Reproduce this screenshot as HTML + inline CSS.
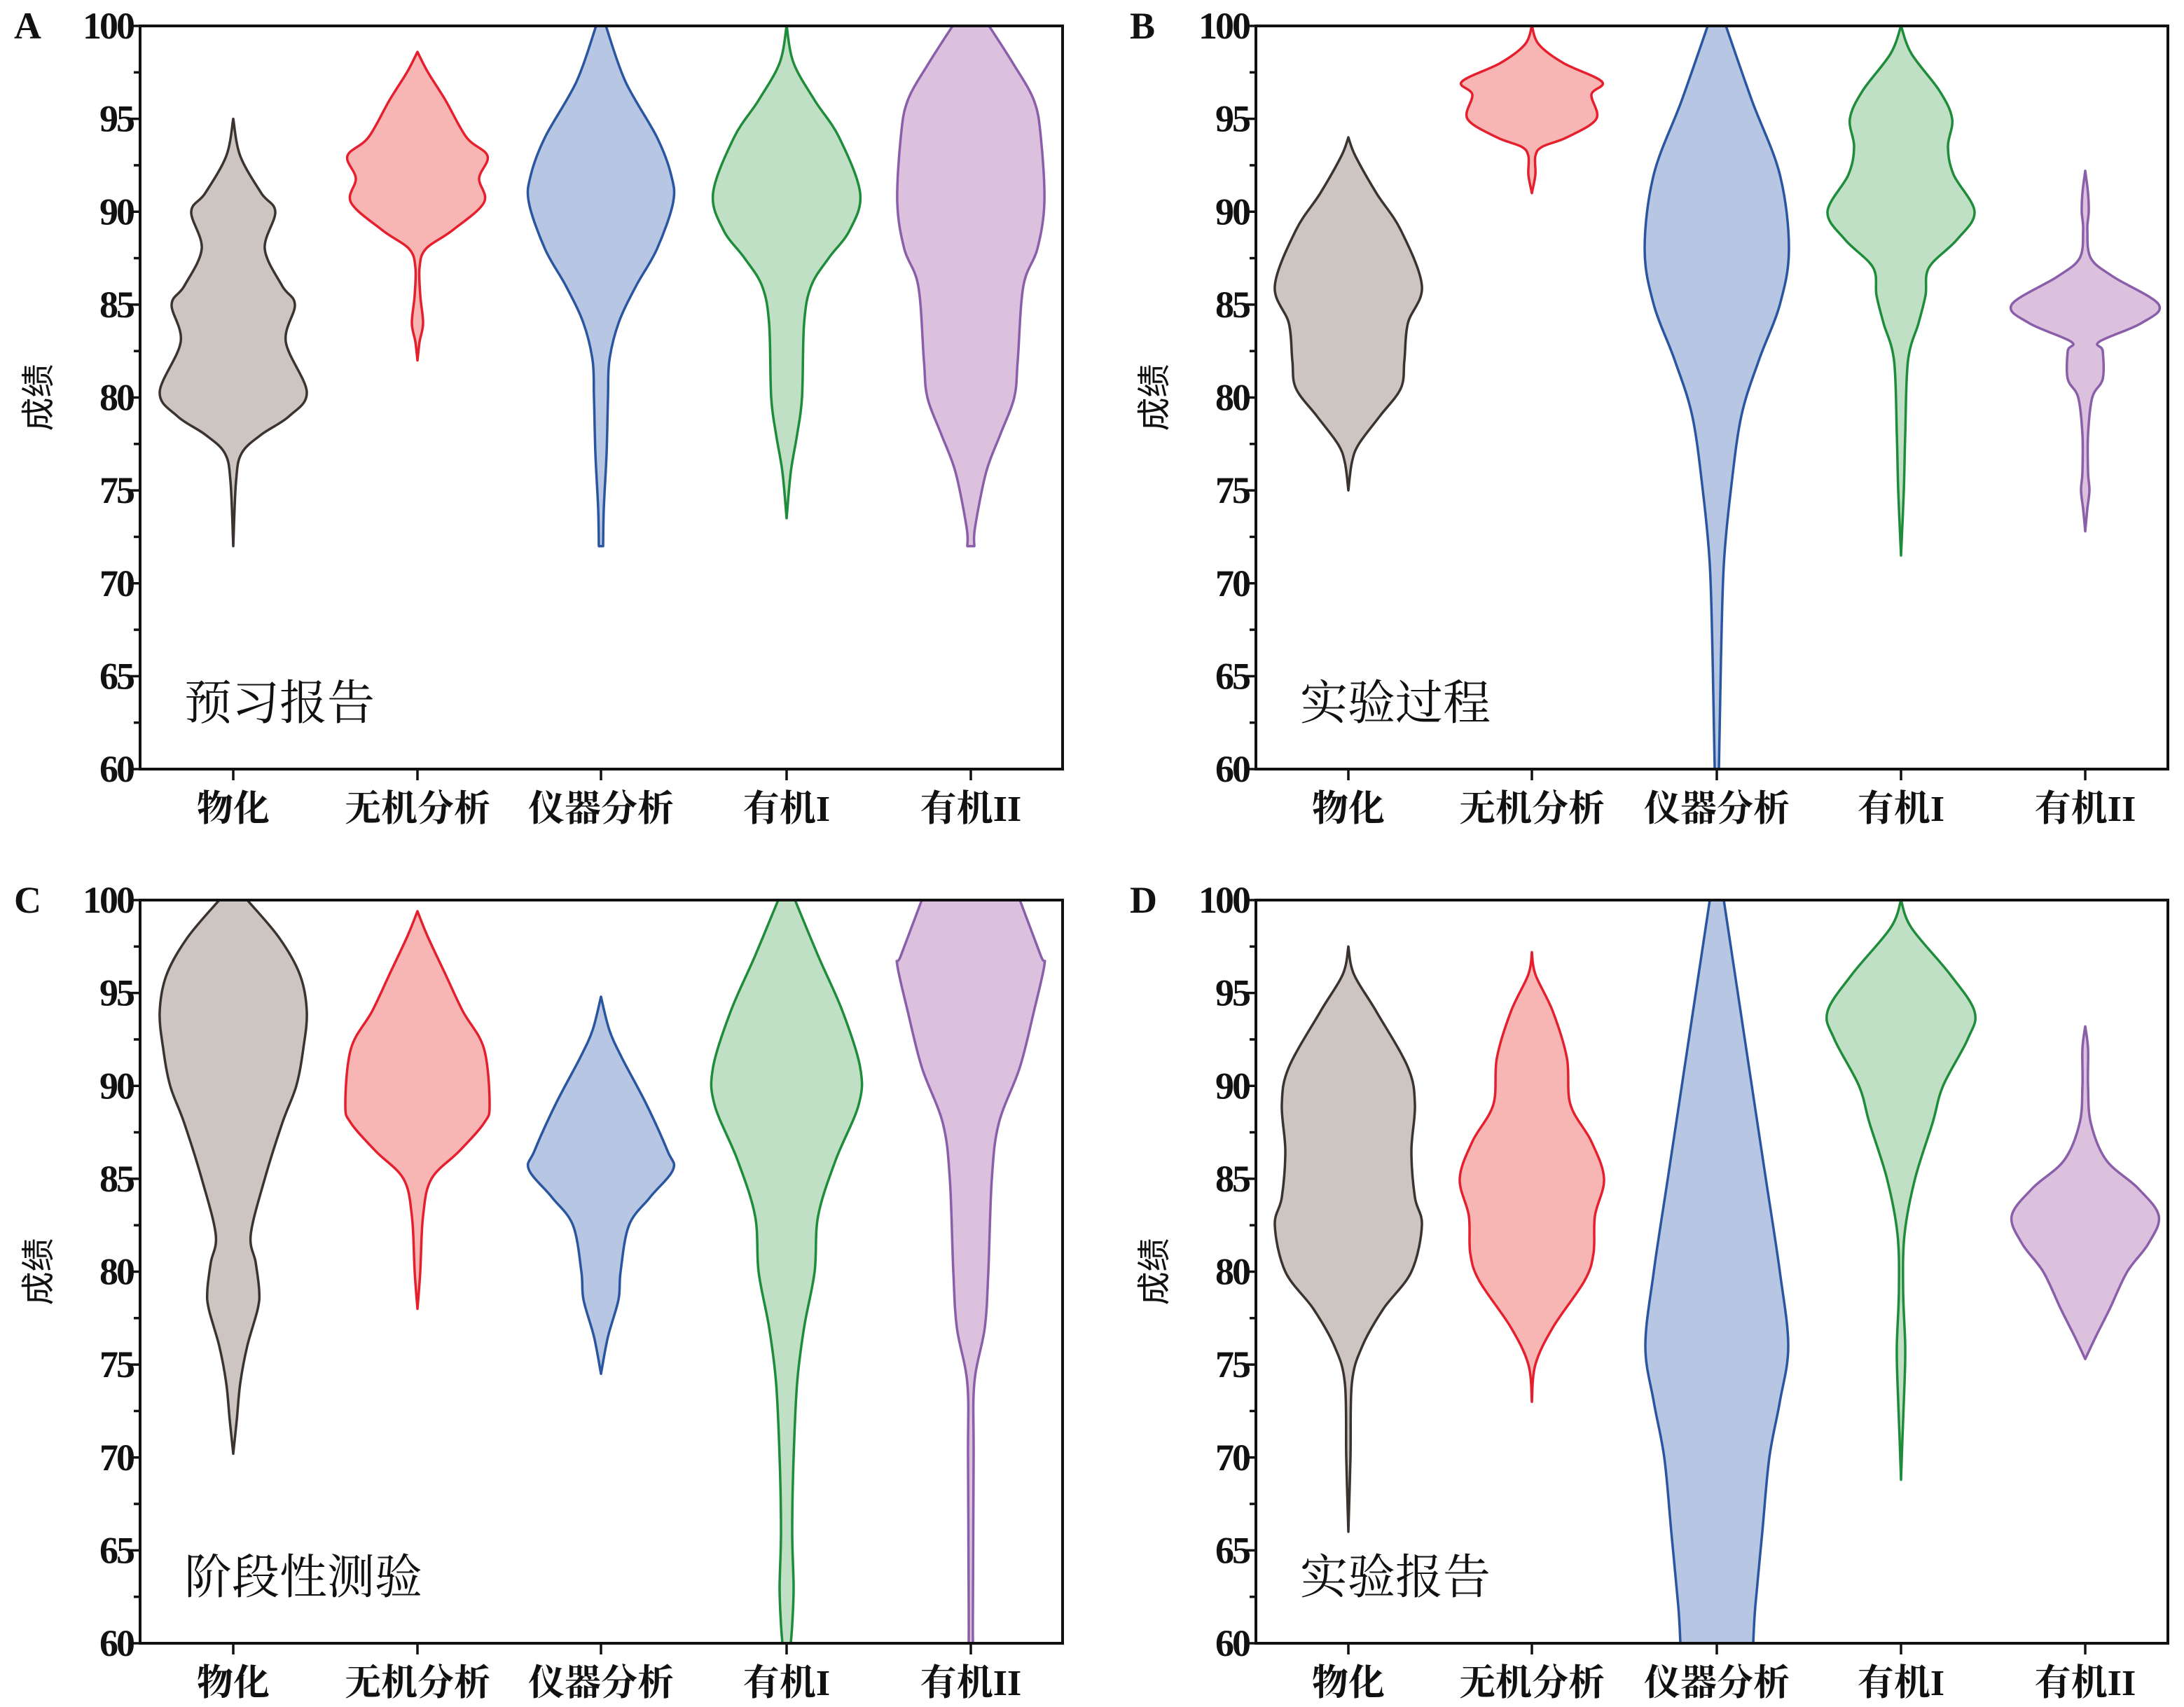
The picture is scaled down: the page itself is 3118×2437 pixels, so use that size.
<!DOCTYPE html>
<html><head><meta charset="utf-8">
<style>
html,body{margin:0;padding:0;background:#fff;}
svg{display:block;}
</style></head>
<body>
<svg id="s" xmlns="http://www.w3.org/2000/svg" width="3118" height="2437" viewBox="0 0 3118 2437"></svg>
<script>
const NS="http://www.w3.org/2000/svg";
const svg=document.getElementById('s');
function el(t,a,txt){const e=document.createElementNS(NS,t);for(const k in a)e.setAttribute(k,a[k]);if(txt!==undefined)e.textContent=txt;svg.appendChild(e);return e;}
const cols=[["#cdc5c2","#3a3330"],["#f7b6b4","#e5202e"],["#b6c6e3","#2a56a0"],["#bfe0c4","#1e8c3a"],["#dcc1df","#8a5ea8"]];
const cats=["物化","无机分析","仪器分析","有机I","有机II"];
const panels=[
 {L:"A",t:"预习报告",x0:200,x1:1517,y0:37,y1:1098,cx:[333,596,858,1123,1386],v:[
  [[95,0],[93,10],[91,40],[90,60],[88,45],[86,70],[85,88],[83,75],[80.3,105],[79,80],[78,40],[77,12],[75.5,4],[72,0]],
  [[98.6,0],[97.5,15],[96,40],[94,70],[93,100],[91.8,88],[90.5,95],[89,50],[88,12],[87,3],[85.5,4],[84,8],[83,3],[82,0]],
  [[100,7],[97,35],[94,80],[92,100],[90.5,103],[88,80],[86,50],[84,25],[82,12],[80,10],[77,8],[74,4],[72,3]],
  [[100,0],[98,10],[96,40],[94,75],[91,105],[89,90],[87.5,60],[86,35],[84,25],[80,22],[78,15],[76,6],[73.5,0]],
  [[100,26],[98,60],[96,90],[94,100],[90.5,105],[88,95],[86,75],[82,67],[80,62],[78,42],[76,22],[73,6],[72,5]]]},
 {L:"B",t:"实验过程",x0:1793,x1:3095,y0:37,y1:1098,cx:[1925,2187,2451,2714,2977],v:[
  [[94,0],[93,10],[91,40],[89,75],[86,105],[84,85],[82,80],[80.5,75],[79,45],[77.5,15],[76.5,5],[75,0]],
  [[100,0],[99,10],[98,45],[97,100],[96.3,85],[95,92],[94,50],[93.5,15],[93,5],[92,5],[91,0]],
  [[100,13],[96,50],[92,90],[88,103],[85,90],[82,60],[79,35],[75,20],[71,10],[66,6],[62,4],[60,3]],
  [[100,0],[98.5,15],[96.5,55],[95,73],[93.5,67],[92,75],[90,105],[88.5,80],[87,40],[85.5,35],[84,25],[82,10],[78,6],[75,4],[71.5,0]],
  [[92.2,0],[91,4],[90,5],[89,3],[87.5,8],[86.5,40],[85,105],[84,80],[83,20],[82.5,25],[81,25],[80,10],[78,4],[76,4],[75,6],[74,3],[72.8,0]]]},
 {L:"C",t:"阶段性测验",x0:200,x1:1517,y0:1285,y1:2346,cx:[333,596,858,1123,1386],v:[
  [[100,20],[98,65],[96,95],[94,105],[92,100],[90,90],[88,70],[85,45],[82,25],[80.5,32],[79,37],[78,35],[76,20],[74,10],[72,5],[70.2,0]],
  [[99.4,0],[98,15],[96,40],[94,65],[92,95],[89,103],[88,95],[86.5,60],[85,20],[83,8],[80,4],[78,0]],
  [[94.8,0],[93,12],[91.5,30],[89,65],[86.5,95],[85.5,103],[84,70],[82.5,40],[80,28],[78.5,25],[76.5,10],[74.5,0]],
  [[100,12],[97,45],[94,80],[91,105],[89,103],[86,70],[83,45],[80,40],[77,25],[74,15],[70,10],[66,8],[63,10],[61,8],[60,6]],
  [[100,70],[97,100],[96.5,105],[94,90],[91,70],[88,40],[85,30],[80,25],[77,20],[74,5],[70,4],[62,3],[60,3]]]},
 {L:"D",t:"实验报告",x0:1793,x1:3095,y0:1285,y1:2346,cx:[1925,2187,2451,2714,2977],v:[
  [[97.5,0],[96,8],[94,40],[91,85],[89,95],[86.5,90],[84,95],[82.5,105],[80,90],[78,50],[76,20],[74,5],[70,3],[66,0]],
  [[97.2,0],[96,5],[94,30],[91.5,50],[89,55],[87,85],[85,103],[83,90],[81,88],[79.5,75],[77,30],[75,5],[73,0]],
  [[100,10],[95,30],[90,50],[85,70],[80,90],[76,102],[73,90],[70,75],[66,65],[62,55],[60,52]],
  [[100,0],[98.5,15],[96,70],[94,105],[92.5,95],[90,60],[88,45],[85,20],[82,5],[79,3],[76,6],[74,5],[71,2],[68.8,0]],
  [[93.2,0],[92,4],[90,4],[88,8],[86,30],[84.5,75],[83,105],[81.5,90],[80,60],[78,35],[76.5,15],[75.3,0]]]}
];
function smooth(pts){
  let d="M"+pts[0][0].toFixed(1)+","+pts[0][1].toFixed(1);
  for(let i=0;i<pts.length-1;i++){
    const p0=pts[Math.max(0,i-1)],p1=pts[i],p2=pts[i+1],p3=pts[Math.min(pts.length-1,i+2)];
    const c1=[p1[0]+(p2[0]-p0[0])/6,p1[1]+(p2[1]-p0[1])/6];
    const c2=[p2[0]-(p3[0]-p1[0])/6,p2[1]-(p3[1]-p1[1])/6];
    d+=" C"+c1[0].toFixed(1)+","+c1[1].toFixed(1)+" "+c2[0].toFixed(1)+","+c2[1].toFixed(1)+" "+p2[0].toFixed(1)+","+p2[1].toFixed(1);
  }
  return d;
}
const serif='"Liberation Serif", serif';
const cjk='"Liberation Serif","Noto Serif CJK SC","Noto Sans CJK SC",serif';
panels.forEach(P=>{
  const Y=v=>P.y1-(v-60)*(P.y1-P.y0)/40;
  P.v.forEach((pts,i)=>{
    const cx=P.cx[i];
    const right=pts.map(p=>[cx+p[1],Y(p[0])]);
    const left=pts.slice().reverse().map(p=>[cx-p[1],Y(p[0])]);
    let d=smooth(right);
    d+=" L"+left[0][0].toFixed(1)+","+left[0][1].toFixed(1)+smooth(left).replace(/^M[^ ]+/,"")+" Z";
    el("path",{d:d,fill:cols[i][0],stroke:cols[i][1],"stroke-width":3.5,"stroke-linejoin":"round"});
  });
  el("rect",{x:P.x0,y:P.y0,width:P.x1-P.x0,height:P.y1-P.y0,fill:"none",stroke:"#111","stroke-width":4});
  for(let v=60;v<=100;v+=2.5){
    const y=Y(v),maj=(v%5===0);
    el("line",{x1:P.x0,x2:P.x0-(maj?16:9),y1:y,y2:y,stroke:"#111","stroke-width":3.5});
    if(maj) el("text",{x:P.x0-10,y:y+18,"text-anchor":"end","font-family":serif,"font-weight":"bold","font-size":54,"letter-spacing":-3,fill:"#111"},String(v));
  }
  P.cx.forEach((cx,i)=>{
    el("line",{x1:cx,x2:cx,y1:P.y1,y2:P.y1+16,stroke:"#111","stroke-width":3.5});
    el("text",{x:cx,y:P.y1+74,"text-anchor":"middle","font-family":cjk,"font-weight":"bold","font-size":52,fill:"#111"},cats[i]);
  });
  el("text",{x:P.x0-180,y:P.y0+18,"font-family":serif,"font-weight":"bold","font-size":54,fill:"#111"},P.L);
  const ly=(P.y0+P.y1)/2;
  el("text",{x:P.x0-150,y:ly,"text-anchor":"middle","font-family":'"Noto Sans CJK SC",sans-serif',"font-size":48,fill:"#111",transform:`rotate(-90 ${P.x0-150} ${ly})`,"dominant-baseline":"central"},"成绩");
  el("text",{x:P.x0+63,y:P.y0+990,"font-family":cjk,"font-size":68,fill:"#111"},P.t);
});
</script>
</body></html>
